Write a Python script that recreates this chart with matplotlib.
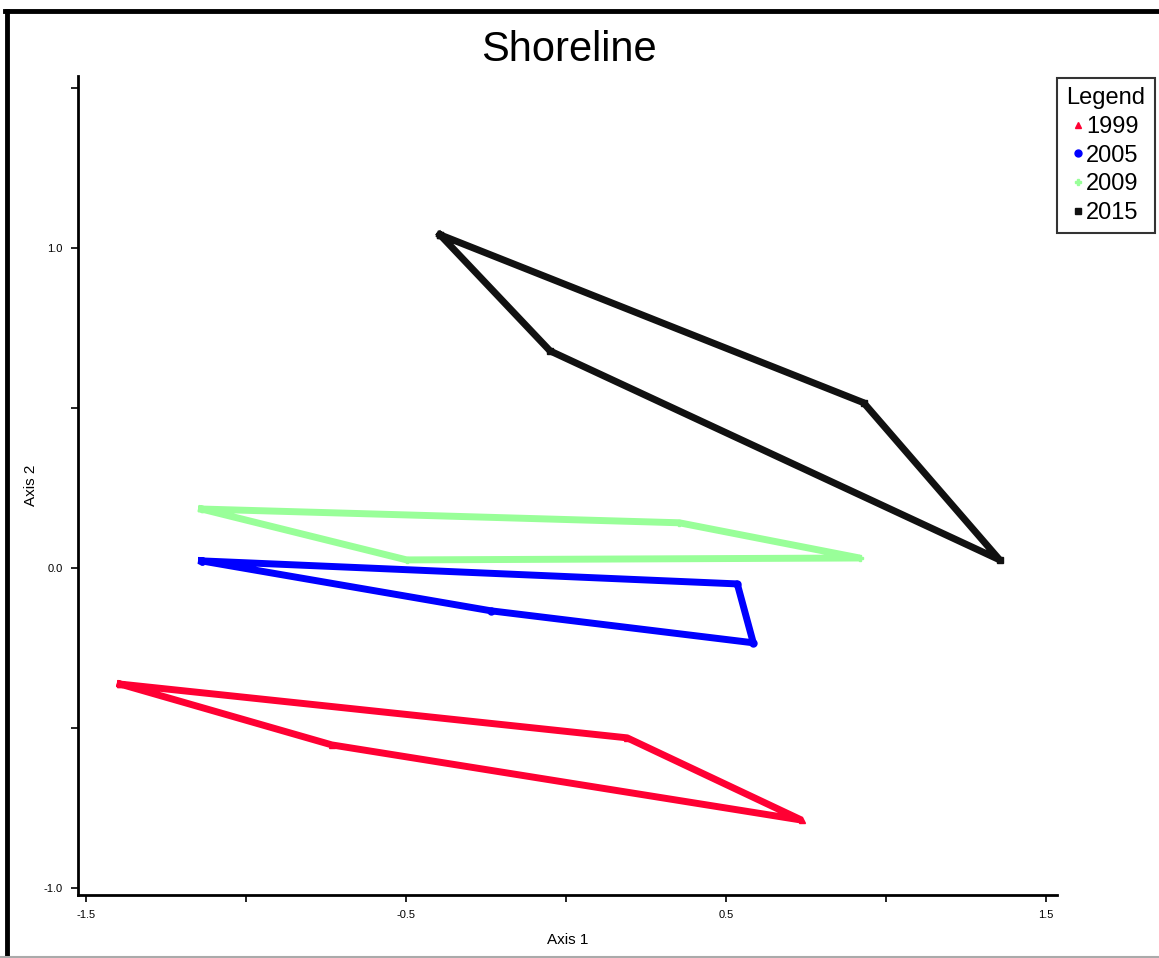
import matplotlib.pyplot as plt
from matplotlib.lines import Line2D

plt.rcParams['font.family'] = ['Liberation Sans', 'DejaVu Sans']

# polygon vertices per year (closed outline)
years = ["1999", "2005", "2009", "2015"]
x_1999 = [-1.393, 0.191, 0.736, -0.732, -1.393]
y_1999 = [-0.363, -0.531, -0.788, -0.553, -0.363]
x_2005 = [-1.139, 0.535, 0.585, -0.235, -1.139]
y_2005 = [0.022, -0.050, -0.234, -0.134, 0.022]
x_2009 = [-1.139, 0.354, 0.917, -0.498, -1.139]
y_2009 = [0.184, 0.141, 0.031, 0.025, 0.184]
x_2015 = [-0.394, 0.930, 1.355, -0.050, -0.394]
y_2015 = [1.041, 0.516, 0.025, 0.678, 1.041]

colors = ["#ff0033", "#0000ff", "#99ff99", "#111111"]
markers = ["^", "o", "P", "s"]
xs = [x_1999, x_2005, x_2009, x_2015]
ys = [y_1999, y_2005, y_2009, y_2015]

fig = plt.figure(figsize=(11.59, 9.58), dpi=100)
ax = fig.add_axes([78 / 1159, 63 / 958, (1057 - 78) / 1159, (895 - 76) / 958])

for x, y, c, m, lab in zip(xs, ys, colors, markers, years):
    ax.plot(x, y, color=c, lw=5, marker=m, ms=5, label=lab, solid_joinstyle="bevel")

ax.set_xlim(-1.525, 1.534)
ax.set_ylim(-1.022, 1.537)
ax.set_xticks([-1.5, -1.0, -0.5, 0.0, 0.5, 1.0, 1.5])
ax.set_xticklabels(["-1.5", "", "-0.5", "", "0.5", "", "1.5"])
ax.set_yticks([-1.0, -0.5, 0.0, 0.5, 1.0, 1.5])
ax.set_yticklabels(["-1.0", "", "0.0", "", "1.0", ""])
ax.tick_params(labelsize=8, length=5, width=1.2, pad=6)
for s in ["top", "right"]:
    ax.spines[s].set_visible(False)
for s in ["left", "bottom"]:
    ax.spines[s].set_linewidth(2)

ax.set_xlabel("Axis 1", fontsize=11, labelpad=9)
ax.set_ylabel("Axis 2", fontsize=11, labelpad=4)
fig.text(0.491, 1 - 50 / 958, "Shoreline", fontsize=30, ha="center", va="center")

handles = [Line2D([], [], ls="none", marker=m, color=c, ms=5) for c, m in zip(colors, markers)]
leg = fig.legend(handles, years, title="Legend", loc="upper right",
                 bbox_to_anchor=(1155 / 1159, 1 - 78 / 958), fontsize=17,
                 title_fontsize=17, frameon=True, fancybox=False, edgecolor="black",
                 handlelength=0.4, handletextpad=0.15, borderpad=0.4, labelspacing=0.28,
                 borderaxespad=0)
leg.get_frame().set_linewidth(1.5)

# figure frame
fig.add_artist(Line2D([7 / 1159, 7 / 1159], [0, 1 - 11 / 958], color="black", lw=3.5, transform=fig.transFigure))
fig.add_artist(Line2D([5 / 1159, 1], [1 - 11 / 958, 1 - 11 / 958], color="black", lw=3.5, transform=fig.transFigure))
fig.add_artist(Line2D([0, 1], [1.5 / 958, 1.5 / 958], color="#aaaaaa", lw=1.5, transform=fig.transFigure))

fig.savefig("out.png", dpi=100)
